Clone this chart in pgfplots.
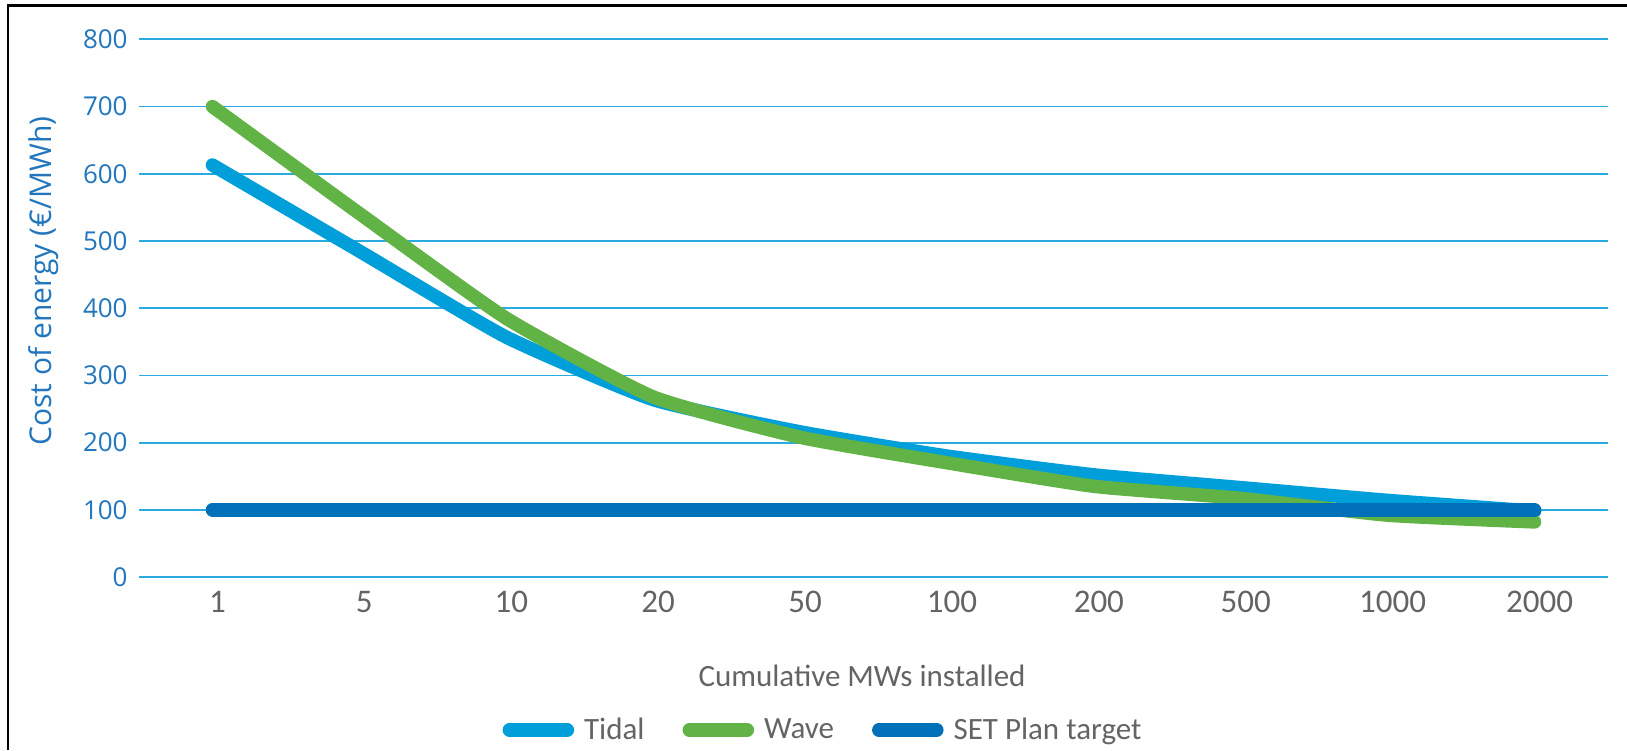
\documentclass[border=0pt]{standalone}
\usepackage{fontspec}
\setmainfont{Carlito}
\newfontfamily\opensans{Open Sans}
\usepackage{pgfplots}
\pgfplotsset{compat=1.18}
\definecolor{tidal}{RGB}{0,159,218}
\definecolor{wave}{RGB}{98,179,70}
\definecolor{setplan}{RGB}{0,112,184}
\definecolor{gridblue}{RGB}{41,171,226}
\definecolor{ticklbl}{RGB}{33,118,189}
\definecolor{greytxt}{RGB}{100,100,100}

% x = category index: 1, 5, 10, 20, 50, 100, 200, 500, 1000, 2000 MW
\pgfplotstableread{
x tidal wave setplan
0 613 700 100
1 485 541 100
2 357 385 100
3 264 268 100
4 216 208 100
5 180 170 100
6 152 135 100
7 133 117 100
8 114 92  100
9 98  82  100
}\costdata

\begin{document}
\begin{tikzpicture}
\path[use as bounding box] (0,0) rectangle (813.5pt,375pt);
\draw[black, line width=1.1pt] (4.15pt,0) -- (4.15pt,372.2pt) -- (813.5pt,372.2pt);
\begin{axis}[
    at={(69.5pt,86.5pt)}, anchor=south west,
    scale only axis,
    width=734.5pt, height=268.8pt,
    xmin=-0.5, xmax=9.5,
    ymin=0, ymax=800,
    xtick={0,...,9},
    xticklabels={1,5,10,20,50,100,200,500,1000,2000},
    ytick={0,100,...,800},
    axis line style={draw=none},
    tick style={draw=none},
    major tick length=0pt,
    xtick pos=left, ytick pos=left,
    ymajorgrids=true,
    grid style={gridblue, line width=0.9pt},
    /pgf/number format/assume math mode=true,
    yticklabel style={font=\opensans\fontsize{13}{15}\selectfont, text=ticklbl,
        anchor=east, inner sep=0pt, xshift=-5.5pt},
    xticklabel style={font=\fontsize{16.5}{19}\selectfont, text=greytxt,
        anchor=north, inner sep=0pt, yshift=-7pt, xshift=2.5pt},
    ylabel={Cost of energy (€/MWh)},
    ylabel style={font=\opensans\fontsize{15}{18}\selectfont, text=ticklbl,
        at={(axis description cs:-0.0595,0.5506)}, anchor=base, inner sep=0pt},
    xlabel={Cumulative MWs installed},
    xlabel style={font=\fontsize{15.5}{18}\selectfont, text=greytxt,
        at={(axis description cs:0.4922,-0.2046)}, anchor=base, inner sep=0pt},
    no markers,
    legend columns=3,
    legend style={at={(axis description cs:0.4650,-0.2846)}, anchor=center,
        draw=none, fill=none, font=\fontsize{15.5}{18}\selectfont, text=greytxt,
        nodes={inner sep=0pt},
        /tikz/every odd column/.append style={column sep=5pt},
        /tikz/every even column/.append style={column sep=19pt}},
    legend image code/.code={
        \path (0pt,0pt) -- (29pt,0pt);
        \draw[#1, line width=7pt, line cap=round] (3.5pt,0pt) -- (25.5pt,0pt);},
]
\addplot[tidal, line width=6.75pt, line cap=round, line join=round, smooth, tension=0.3]
    table[x=x, y=tidal] {\costdata};
\addlegendentry{Tidal}
\addplot[wave, line width=6.75pt, line cap=round, line join=round, smooth, tension=0.3]
    table[x=x, y=wave] {\costdata};
\addlegendentry{Wave}
\addplot[setplan, line width=6.75pt, line cap=round, line join=round]
    table[x=x, y=setplan] {\costdata};
\addlegendentry{SET Plan target}
\end{axis}
\end{tikzpicture}
\end{document}
